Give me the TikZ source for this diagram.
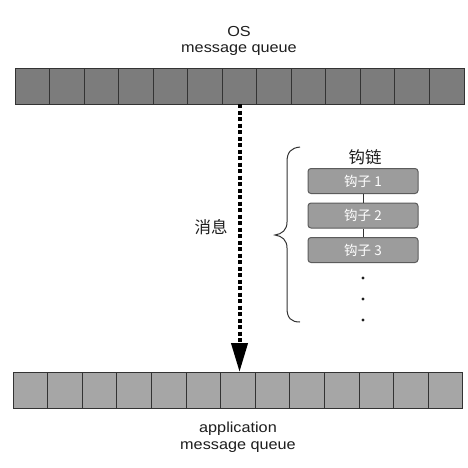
\documentclass[tikz,border=0pt]{standalone}
\usepackage{fontspec}
\setmainfont{Liberation Sans}[FakeStretch=1.12]
\newfontfamily\cjk{Noto Sans CJK SC}
\usetikzlibrary{arrows.meta}
\definecolor{topq}{HTML}{7C7C7C}
\definecolor{botq}{HTML}{A6A6A6}
\definecolor{hookc}{HTML}{9C9C9C}
\definecolor{edgec}{HTML}{333333}
\definecolor{txt}{HTML}{1E1E1E}
\begin{document}
\begin{tikzpicture}[x=1pt,y=-1pt,
  topcell/.style={draw=edgec,line width=1pt,fill=topq,minimum width=34.54pt,minimum height=36pt,inner sep=0pt,outer sep=0pt},
  botcell/.style={draw=edgec,line width=1pt,fill=botq,minimum width=34.6pt,minimum height=36pt,inner sep=0pt,outer sep=0pt},
  qlabel/.style={align=center,text=txt,font=\fontsize{14.5}{16.5}\selectfont},
  cnlabel/.style={text=txt,font=\cjk\fontsize{16.5}{16.5}\selectfont},
  hookbox/.style={draw=edgec!80,line width=1pt,fill=hookc,rounded corners=3pt,minimum width=110pt,minimum height=25pt,inner sep=0pt,text=white,font=\cjk\fontsize{13.5}{13.5}\selectfont},
  flow/.style={line width=4pt,dash pattern=on 4pt off 2.5pt,draw=black,-{Triangle[length=29pt,width=16pt]}},
  chainline/.style={draw=edgec,line width=0.8pt},
  dotmark/.style={circle,fill=txt,inner sep=0pt,minimum size=3.2pt}
]
\useasboundingbox (0,0) rectangle (468,467);
\fill[white] (0,0) rectangle (468,467);

% top queue
\foreach \i in {1,...,13}
  \node[topcell] (t\i) at ({15+(\i-0.5)*34.54},86) {};
\node[qlabel] (toplabel) at (239,41) {OS\\message queue};

% bottom queue
\foreach \i in {1,...,13}
  \node[botcell] (b\i) at ({13+(\i-0.5)*34.6},390) {};
\node[qlabel] (botlabel) at (238,437) {application\\message queue};

% message arrow
\draw[flow] (t7.south) -- (t7.south |- b7.north);
\node[cnlabel] (msg) at (211,227) {消息};

% hook chain
\node[cnlabel] (chain) at (365,157) {钩链};
\node[hookbox] (h1) at (363,181) {钩子 1};
\node[hookbox] (h2) at (363,215.5) {钩子 2};
\node[hookbox] (h3) at (363,250) {钩子 3};
\draw[chainline] (h1) -- (h2);
\draw[chainline] (h2) -- (h3);
\node[dotmark] (d1) at (363,278) {};
\node[dotmark] (d2) at (363,299) {};
\node[dotmark] (d3) at (363,320) {};

% brace
\draw[line width=1pt,draw=edgec]
  (300,147) .. controls (291,148) and (287,152) .. (287,162)
  -- (287,222) .. controls (287,230) and (282,234) .. (275,235)
  .. controls (282,236) and (287,240) .. (287,248)
  -- (287,308) .. controls (287,318) and (291,322) .. (300,322);
\end{tikzpicture}
\end{document}
